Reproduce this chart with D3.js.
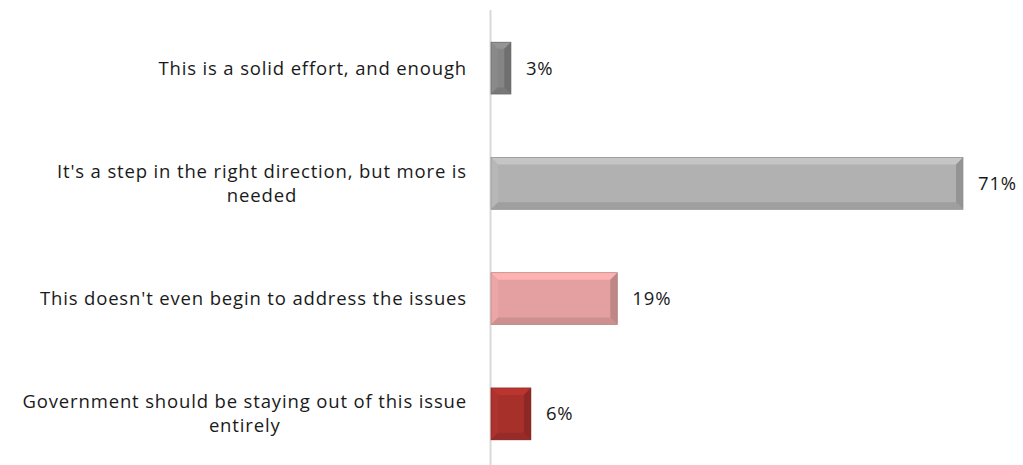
<!DOCTYPE html>
<html><head><meta charset="utf-8">
<script src="https://cdn.jsdelivr.net/npm/d3@7"></script>
<style>body{margin:0;background:#fff}svg{display:block}</style>
</head><body>
<svg id="c" width="1023" height="465"></svg>
<script>
const categories = [
  ["This is a solid effort, and enough"],
  ["It's a step in the right direction, but more is", "needed"],
  ["This doesn't even begin to address the issues"],
  ["Government should be staying out of this issue", "entirely"]
];
const values = [3, 71, 19, 6];
const colors = ["#858585", "#b1b1b1", "#e4a0a0", "#a8302b"];

const svg = d3.select("#c");
const x0 = 491;
const x = d3.scaleLinear().domain([0, 71]).range([x0, 963]);
const y = d3.scaleBand().domain(d3.range(values.length)).range([10.5, 471.5]).paddingInner(0.55).paddingOuter(0.275);

svg.append("line").attr("x1", x0 - 0.5).attr("x2", x0 - 0.5).attr("y1", 10).attr("y2", 465)
  .attr("stroke", "#d9d9d9").attr("stroke-width", 2);

const font = "'Open Sans', sans-serif";
const fs = 18.5;
const ls = 0.85;
const g = svg.selectAll("g.bar").data(values).join("g").attr("class", "bar");
g.each(function(v, i) {
  const sel = d3.select(this);
  const X = x0, Y = y(i), W = x(v) - x0, H = y.bandwidth();
  const b = Math.min(7, W / 3);
  const c = d3.color(colors[i]);
  sel.append("rect").attr("x", X).attr("y", Y).attr("width", W).attr("height", H).attr("fill", c);
  const poly = (pts, fill) => sel.append("polygon").attr("points", pts.map(p => p.join(",")).join(" ")).attr("fill", fill);
  poly([[X, Y], [X + W, Y], [X + W - b, Y + b], [X + b, Y + b]], c.brighter(0.3));
  poly([[X, Y], [X + b, Y + b], [X + b, Y + H - b], [X, Y + H]], c.brighter(0.1));
  poly([[X, Y + H], [X + b, Y + H - b], [X + W - b, Y + H - b], [X + W, Y + H]], c.darker(0.3));
  poly([[X + W, Y], [X + W, Y + H], [X + W - b, Y + H - b], [X + W - b, Y + b]], c.darker(0.5));
  sel.append("rect").attr("x", X).attr("y", Y).attr("width", W).attr("height", H).attr("fill", "none")
    .attr("stroke", c.darker(0.6)).attr("stroke-width", 0.7);
  sel.append("text").attr("x", x(v) + 15).attr("y", Y + H / 2).attr("dy", "0.35em")
    .attr("font-family", font).attr("font-size", fs).attr("letter-spacing", ls)
    .attr("fill", "#1a1a1a").text(v + "%");
});

categories.forEach((lines, i) => {
  const cy = y(i) + y.bandwidth() / 2;
  const lh = 24;
  const texts = lines.map((l, k) => svg.append("text")
    .attr("font-family", font).attr("font-size", fs).attr("letter-spacing", ls).attr("fill", "#1a1a1a")
    .attr("y", cy + (k - (lines.length - 1) / 2) * lh).attr("dy", "0.35em").text(l));
  const maxW = Math.max(...texts.map(t => t.node().getComputedTextLength()));
  const right = 467;
  texts.forEach(t => t.attr("x", right - maxW / 2).attr("text-anchor", "middle"));
});
</script>
</body></html>
